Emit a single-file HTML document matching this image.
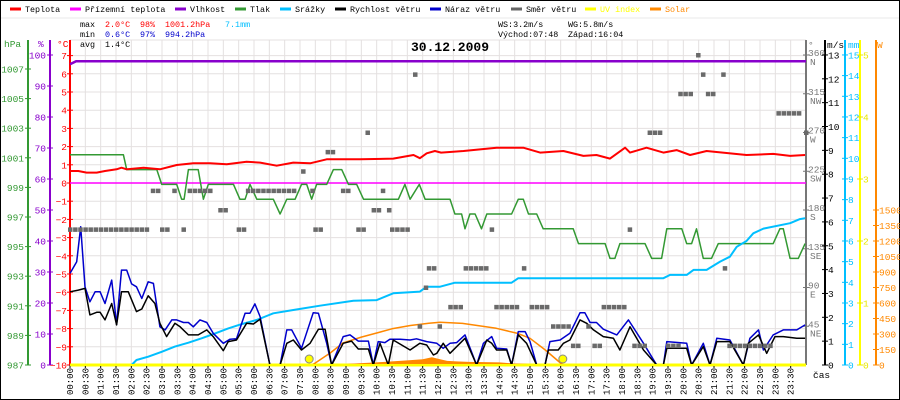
<!DOCTYPE html>
<html><head><meta charset="utf-8">
<style>
html,body{margin:0;padding:0;background:#fff;}
svg{display:block;font-family:"Liberation Mono",monospace;}
</style></head>
<body>
<svg id="chart" width="900" height="400" viewBox="0 0 900 400" xmlns="http://www.w3.org/2000/svg">
<rect x="0.5" y="0.5" width="899" height="399" fill="#fff" stroke="#000" stroke-width="1"/>
<g id="grid"></g>
<g id="legend"></g>
<g id="stats" font-size="8.4">
<text x="80" y="27">max</text>
<text x="105" y="27" fill="#ff0000">2.0°C</text>
<text x="140" y="27" fill="#ff0000">98%</text>
<text x="165" y="27" fill="#ff0000">1001.2hPa</text>
<text x="225" y="27" fill="#00bfff">7.1mm</text>
<text x="80" y="37">min</text>
<text x="105" y="37" fill="#0000cc">0.6°C</text>
<text x="140" y="37" fill="#0000cc">97%</text>
<text x="165" y="37" fill="#0000cc">994.2hPa</text>
<text x="80" y="47">avg</text>
<text x="105" y="47">1.4°C</text>
<text x="498" y="27">WS:3.2m/s</text>
<text x="568" y="27">WG:5.8m/s</text>
<text x="498" y="37">Východ:07:48</text>
<text x="568" y="37">Západ:16:04</text>
</g>
<text x="450" y="51" text-anchor="middle" font-size="13" font-weight="bold">30.12.2009</text>
<g id="axes"></g>
<g id="series"></g>
</svg>
<script>
// ---- data ----
const xLabels=[];for(let h=0;h<24;h++){xLabels.push((h<10?'0':'')+h+':00');xLabels.push((h<10?'0':'')+h+':30');}
const tempT=[0,0.27,0.54,0.87,1.14,1.52,1.68,1.85,2.4,2.93,3.48,4.02,4.57,5.11,5.76,6.2,6.74,7.28,7.83,8.37,9.46,10.54,11.2,11.41,11.63,11.9,12.1,12.83,13.91,14.78,15.33,16.09,16.74,17.17,17.61,18.1,18.26,18.8,19.35,19.78,20.22,20.76,22.06,22.93,23.48,23.97];
const tempV=[0.66,0.66,0.57,0.57,0.66,0.75,0.84,0.75,0.84,0.75,0.99,1.08,1.08,1.03,1.17,1.12,0.95,1.12,1.08,1.3,1.3,1.34,1.54,1.36,1.63,1.76,1.67,1.76,1.94,1.94,1.67,1.76,1.49,1.54,1.34,1.94,1.67,1.94,1.67,1.81,1.54,1.76,1.54,1.6,1.49,1.54];
const dewT=[0,24];const dewV=[0,0];
const humT=[0,0.2,24];const humV=[97,98,98];
const presT=[0,1.74,1.85,2.83,2.99,3.48,3.64,3.72,3.86,4.18,4.35,4.51,5.33,5.54,5.71,5.87,6.09,6.63,6.85,7.07,7.34,7.55,7.72,7.88,8.04,8.37,8.59,8.86,9.08,9.35,9.57,10.71,10.92,11.09,11.39,11.58,12.39,12.55,12.77,12.88,13.04,13.21,13.42,13.59,14.4,14.62,14.78,14.95,15.22,15.43,16.41,16.58,17.45,17.61,17.77,17.93,18.75,18.97,19.29,19.46,19.95,20.11,20.27,20.43,20.65,20.92,21.14,22.93,23.15,23.26,23.48,23.75,23.97];
const presV=[1001.2,1001.2,1000.2,1000.2,999.2,999.2,998.2,998.2,1000.2,1000.2,998.2,999.2,999.2,998.2,998.2,999.2,998.2,998.2,997.2,998.2,998.2,999.2,999.2,998.2,999.2,999.2,1000.2,1000.2,999.2,999.2,998.2,998.2,999.2,998.2,999.2,998.2,998.2,997.2,997.2,996.2,997.2,997.2,996.2,997.2,997.2,998.2,998.2,997.2,997.2,996.2,996.2,995.2,995.2,994.2,994.2,995.2,995.2,994.2,994.2,996.2,996.2,995.2,995.2,996.2,994.2,994.2,995.2,995.2,996.2,996.2,994.2,994.2,995.2];
const rainT=[0,2.01,2.17,2.55,2.99,3.42,3.86,4.29,4.73,5.16,5.6,6.09,6.41,6.63,7.28,8.15,9.24,10.0,10.54,11.41,11.63,12.07,12.55,14.4,14.62,19.35,19.57,20.11,20.33,20.76,21.2,21.52,21.74,22.06,22.28,22.61,23.48,23.8,23.97];
const rainV=[0,0,0.24,0.4,0.64,0.89,1.08,1.29,1.53,1.77,1.98,2.18,2.37,2.5,2.66,2.87,3.11,3.14,3.47,3.55,3.79,3.79,3.98,3.98,4.2,4.2,4.36,4.36,4.6,4.6,5.0,5.24,5.72,6.0,6.37,6.6,6.86,7.06,7.1];
const windT=[0,0.27,0.49,0.65,0.87,0.98,1.14,1.36,1.52,1.68,1.9,2.17,2.34,2.55,2.77,2.93,3.15,3.42,3.59,3.86,4.18,4.46,4.67,5.0,5.16,5.43,5.76,5.98,6.2,6.52,6.85,7.07,7.28,7.55,7.83,8.1,8.32,8.53,8.91,9.18,9.4,9.73,9.89,10.11,10.38,10.54,11.09,11.41,11.63,11.85,11.96,12.17,12.39,12.88,13.26,13.59,13.75,13.91,14.24,14.4,14.62,14.89,15.22,15.49,15.6,15.92,16.09,16.3,16.63,16.85,17.07,17.39,17.72,17.93,18.26,18.7,19.13,19.35,19.46,20.11,20.27,20.65,20.87,21.09,21.52,21.96,22.12,22.45,22.72,22.99,23.26,23.7,23.97];
const windV=[3.07,3.14,3.21,2.1,2.21,2.21,1.89,2.58,1.68,3.07,3.07,2.24,2.35,2.9,2.58,1.75,1.19,1.75,1.6,1.26,1.26,1.47,1.19,0.6,0.98,1.05,1.75,1.72,1.92,0,0,0.91,1.05,0.63,0.91,1.5,1.5,0,0.91,1.0,0.67,0.67,0,0.91,0,1.05,0.63,0.91,0.84,0.42,0.49,0.91,0.49,1.12,0,1.05,0.91,0.63,0.63,0,1.26,0.91,0,0,0.63,0.63,0.91,1.05,1.89,1.75,1.47,1.19,1.12,0.63,1.6,0.63,0,0,0.7,0.7,0,0.77,0,0.98,0.98,0,0.91,1.26,0.49,1.19,1.19,1.12,1.12];
const gustT=[0,0.22,0.35,0.49,0.65,0.82,0.98,1.14,1.36,1.52,1.68,1.85,2.01,2.17,2.34,2.55,2.72,2.93,3.1,3.32,3.48,3.7,3.86,4.02,4.24,4.46,4.67,5.0,5.22,5.43,5.71,5.87,6.03,6.2,6.52,6.85,7.07,7.23,7.55,7.93,8.1,8.37,8.53,8.91,9.13,9.4,9.73,9.89,10.05,10.27,10.43,10.76,11.09,11.3,11.63,11.96,12.17,12.39,12.61,12.88,13.26,13.48,13.75,13.91,14.24,14.4,14.62,14.84,15.0,15.22,15.49,15.65,15.98,16.3,16.63,16.79,16.96,17.17,17.39,17.83,18.21,18.7,19.13,19.35,19.46,20.11,20.27,20.65,20.87,21.09,21.52,21.96,22.17,22.45,22.61,22.93,23.26,23.7,23.97];
const gustV=[3.84,4.33,5.8,3.28,2.65,3.07,3.07,2.58,3.56,1.7,3.98,3.98,3.4,3.28,2.79,3.49,3.42,1.6,1.47,1.89,1.89,1.78,1.78,1.6,1.89,1.78,1.33,0.91,1.08,1.1,2.17,2.17,2.56,2.03,0,0,1.47,1.47,0.7,2.19,2.17,0.91,0,1.19,1.26,1.0,1.0,0,0.98,0.94,1.08,1.08,1.05,1.1,0.98,0.91,0.7,0.91,0.94,1.26,0,0.91,1.19,0.7,0.67,0,1.4,1.4,0.98,0,0,0.98,1.05,1.33,2.19,2.19,1.78,1.78,1.5,1.26,1.89,0.91,0,0,0.98,0.91,0,0.91,0,1.12,1.05,0,1.12,1.47,0.63,1.26,1.47,1.47,1.68];
const dirStart=[0,2.7,3.0,3.4,3.7,3.9,4.9,5.5,5.8,7.6,7.9,8.0,8.4,8.9,9.4,9.7,9.9,10.2,10.4,10.5,11.25,11.4,11.6,11.7,12.05,12.4,12.9,13.75,13.9,14.8,15.05,15.75,16.4,16.9,17.1,17.4,18.25,18.4,18.9,19.5,19.9,20.48,20.64,20.8,21.3,21.35,21.5,23.1,24];
const dirEnd=[2.55,2.9,3.2,3.5,3.7,4.7,5.2,5.7,7.4,7.7,7.9,8.2,8.7,9.2,9.6,9.7,10.1,10.2,10.4,11.1,11.25,11.4,11.6,11.9,12.2,12.8,13.65,13.75,14.6,14.95,15.6,16.25,16.7,16.9,17.3,18.1,18.25,18.75,19.3,19.85,20.3,20.48,20.64,21.1,21.3,21.35,22.9,23.8,24];
const dirDeg=[157.5,202.5,157.5,202.5,157.5,202.5,180,157.5,202.5,225,202.5,157.5,247.5,202.5,157.5,270,180,202.5,180,157.5,337.5,45,90,112.5,45,67.5,112.5,157.5,67.5,112.5,67.5,45,22.5,45,22.5,67.5,157.5,22.5,270,22.5,315,360,337.5,315,337.5,112.5,22.5,292.5,270];
const solarMaxT=[7.9,8.5,8.9,9.5,10.0,10.5,11.1,11.7,12.07,12.8,13.9,14.6,15.0,15.5,16.07];
const solarMaxV=[0,120,213,270,310,350,382,405,413,403,355,306,258,145,0];
const solarT=[8.3,9.0,9.5,10.0,10.5,11.0,11.5,11.8,12.0,12.3,12.6,13.0,13.5,14.0,14.5,15.0,15.5,16.0];
const solarV=[0,10,18,25,35,45,55,75,60,40,35,30,28,25,15,10,5,0];
const sunEvents=[7.8,16.07];
const uvT=[0,24];const uvV=[0,0];
// ---- scales ----
const X0=70,X1=806,YB=365;
const xT=t=>X0+t*(X1-X0)/24;
const yC=c=>YB-(c+10)*18.2;
const yP=p=>YB-(p-987)*14.8;
const yH=h=>YB-h*3.1;
const yWs=v=>YB-v*23.85;
const yR=m=>YB-m*20.67;
const yS=w=>YB-w*0.10333;
const yD=d=>YB-d*0.8611;
const yU=u=>YB-u*62;
const NS='http://www.w3.org/2000/svg';
function mk(tag,attrs,parent){const e=document.createElementNS(NS,tag);for(const k in attrs)e.setAttribute(k,attrs[k]);parent.appendChild(e);return e;}
const grid=document.getElementById('grid'),axes=document.getElementById('axes'),series=document.getElementById('series'),legend=document.getElementById('legend');
for(let i=0;i<=48;i++){const x=xT(i/2);const l=mk('line',{x1:x,x2:x,y1:40,y2:YB,stroke:'#e4e0e0','stroke-width':1},grid);

}
for(let c=-10;c<=7;c++){const y=yC(c);const l=mk('line',{x1:X0,x2:X1,y1:y,y2:y,stroke:'#e4e0e0','stroke-width':1},grid);

}
mk('line',{x1:X0,x2:X1,y1:40,y2:40,stroke:'#e4e0e0'},grid);
// legend
const legNames=['Teplota','Přízemní teplota','Vlhkost','Tlak','Srážky','Rychlost větru','Náraz větru','Směr větru','UV index','Solar'];
const legColors=['#ff0000','#ff00ff','#8800cc','#339933','#00bfff','#000000','#0000cc','#666666','#ffff00','#ff8800'];
const legX=[10,70,175,235,280,335,430,511,585,650];
for(let i=0;i<legNames.length;i++){
const g=mk('g',{},legend);


mk('line',{x1:legX[i],x2:legX[i]+11,y1:9,y2:9,stroke:legColors[i],'stroke-width':3},g);
const t=mk('text',{x:legX[i]+15,y:12,'font-size':8.4,fill:(i>=8?legColors[i]:'#000')},g);t.textContent=legNames[i];}
mk('line',{x1:1,x2:899,y1:18,y2:18,stroke:'#e8e8e8'},legend);
// axes
function axis(x,color,name){const l=mk('line',{x1:x,x2:x,y1:40,y2:YB,stroke:color,'stroke-width':2},axes);

}
axis(28,'#339933','pressure-axis');axis(50,'#8800cc','humidity-axis');axis(70,'#ff0000','temperature-axis');
axis(806,'#777777','direction-axis');axis(825,'#000000','wind-axis');axis(845,'#00bfff','rain-axis');axis(860,'#ffff00','uv-axis');axis(876,'#ff8800','solar-axis');
mk('line',{x1:X0,x2:X1,y1:YB,y2:YB,stroke:'#ffff00','stroke-width':3},axes);
function tick(x,y,dx,label,color,anchor,tx,fs){mk('line',{x1:x-3,x2:x+3,y1:y,y2:y,stroke:color},axes);
const t=mk('text',{x:tx,y:y+3.5,fill:color,'font-size':fs||10,'text-anchor':anchor},axes);t.textContent=label;

}
for(let p=987;p<=1007;p+=2)tick(28,yP(p),0,String(p),'#339933','end',24,9.5);
for(let h=0;h<=100;h+=10)tick(50,yH(h),0,String(h),'#8800cc','end',46,9.5);
for(let c=-10;c<=7;c++)tick(70,yC(c),0,String(c).replace('-','−'),'#ff0000','end',67,9.5);
const dirLab=['','NE','E','SE','S','SW','W','NW','N'];
for(let k=1;k<=8;k++){const d=k*45,y=yD(d);mk('line',{x1:803,x2:809,y1:y,y2:y,stroke:'#777'},axes);
const t=mk('text',{x:808,y:y+1,fill:'#777','font-size':9.5},axes);t.textContent=String(d);
const t2=mk('text',{x:810,y:y+10,fill:'#777','font-size':9.5},axes);t2.textContent=dirLab[k];}
for(let v=0;v<=13;v++)tick(825,yWs(v),0,String(v),'#000','start',828,9.5);
for(let m=0;m<=15;m++)tick(845,yR(m),0,String(m),'#00bfff','start',848,9.5);
for(let u=0;u<=5;u++)tick(860,yU(u),0,String(u),'#e8e800','start',863,9.5);
for(let w=0;w<=1500;w+=150)tick(876,yS(w),0,String(w),'#ff8800','start',879,9.5);
const axT=[['hPa',4,'#339933'],['%',38,'#8800cc'],['°C',57,'#ff0000']];
axT.forEach(a=>{const t=mk('text',{x:a[1],y:47,fill:a[2],'font-size':9.5},axes);t.textContent=a[0];});
[['°',808,'#777'],['m/s',827,'#000'],['mm',848,'#00bfff'],['W',877,'#ff8800']].forEach(a=>{const t=mk('text',{x:a[1],y:48,fill:a[2],'font-size':9.5},axes);t.textContent=a[0];});
for(let i=0;i<48;i++){const x=xT(i/2);mk('line',{x1:x,x2:x,y1:YB,y2:YB+3,stroke:'#000'},axes);
const t=mk('text',{x:0,y:0,'font-size':9,'text-anchor':'end',transform:`translate(${x+3},368) rotate(-90)`},axes);t.textContent=xLabels[i];

}
const cas=mk('text',{x:813,y:378,'font-size':9.5},axes);cas.textContent='čas';
// series
function path(T,V,ys,color,w,name){let d='';for(let i=0;i<T.length;i++)d+=(i?'L':'M')+xT(T[i]).toFixed(1)+' '+ys(V[i]).toFixed(1);
const p=mk('path',{d:d,fill:'none',stroke:color,'stroke-width':w,'stroke-linejoin':'round'},series);

}
{let d='M'+xT(solarT[0])+' '+YB;for(let i=0;i<solarT.length;i++)d+='L'+xT(solarT[i]).toFixed(1)+' '+yS(solarV[i]).toFixed(1);d+='L'+xT(solarT[solarT.length-1])+' '+YB+'Z';
const p=mk('path',{d:d,fill:'#ff8800'},series);

}
path(solarMaxT,solarMaxV,yS,'#ff8800',1.5,'solar-max-line');
path(dewT,dewV,yC,'#ff00ff',1.5,'dewpoint-line');
path(humT,humV,yH,'#8800cc',2.5,'humidity-line');
path(presT,presV,yP,'#339933',1.5,'pressure-line');
path(rainT,rainV,yR,'#00bfff',2,'rain-line');
path(tempT,tempV,yC,'#ff0000',2,'temperature-line');
path(gustT,gustV,yWs,'#0000cc',1.5,'wind-gust-line');
path(windT,windV,yWs,'#000000',1.5,'wind-speed-line');
path(uvT,uvV,yU,'#ffff00',2,'uv-line');
for(let i=0;i<dirStart.length;i++){for(let t=dirStart[i];t<=dirEnd[i]+0.001;t+=1/6){
const r=mk('rect',{x:xT(t)-2,y:yD(dirDeg[i])-2,width:4.5,height:4.5,fill:'#6a6a6a'},series);

}}
sunEvents.forEach(t=>{const c=mk('circle',{cx:xT(t),cy:359,r:4,fill:'#ffff00',stroke:'#888','stroke-width':1},series);

});
</script>
</body></html>
